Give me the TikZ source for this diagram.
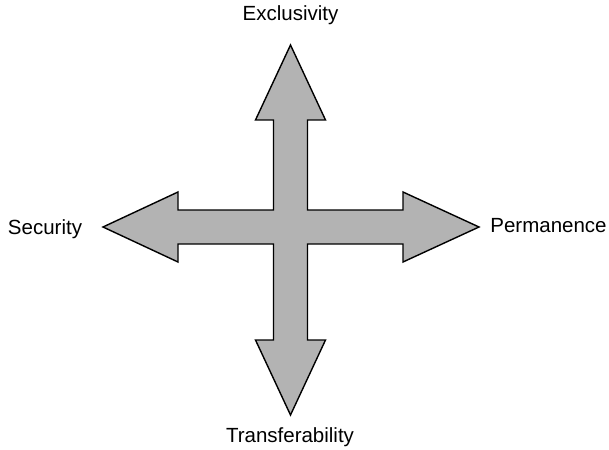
\documentclass[tikz,border=0pt]{standalone}
\usepackage{fontspec}
\setmainfont{Liberation Sans}
\definecolor{crossgray}{RGB}{179,179,179}
\tikzset{
  crossbody/.style={fill=crossgray, draw=black, line width=1.4pt, line join=miter},
  axislabel/.style={font=\fontsize{20.5}{23}\selectfont, inner sep=0pt}
}
\begin{document}
\begin{tikzpicture}[x=1pt, y=-1pt]
  \useasboundingbox (0,0) rectangle (609,449);
  % four-way arrow, drawn as one outline
  \draw[crossbody]
    (290.5,45) -- (325.5,120) -- (307.5,120) -- (307.5,210) -- (403,210) -- (403,192)
    -- (479,227) -- (403,262) -- (403,244) -- (307.5,244) -- (307.5,340) -- (325.5,340)
    -- (290.5,415) -- (255.5,340) -- (273.5,340) -- (273.5,244) -- (178,244) -- (178,262)
    -- (103,227) -- (178,192) -- (178,210) -- (273.5,210) -- (273.5,120) -- (255.5,120) -- cycle;
  % axis labels
  \node[axislabel] (excl) at (290.5,15) {Exclusivity};
  \node[axislabel] (secu) at (45,229) {Security};
  \node[axislabel] (perm) at (548.5,226) {Permanence};
  \node[axislabel] (tran) at (290,437) {Transferability};
\end{tikzpicture}
\end{document}
